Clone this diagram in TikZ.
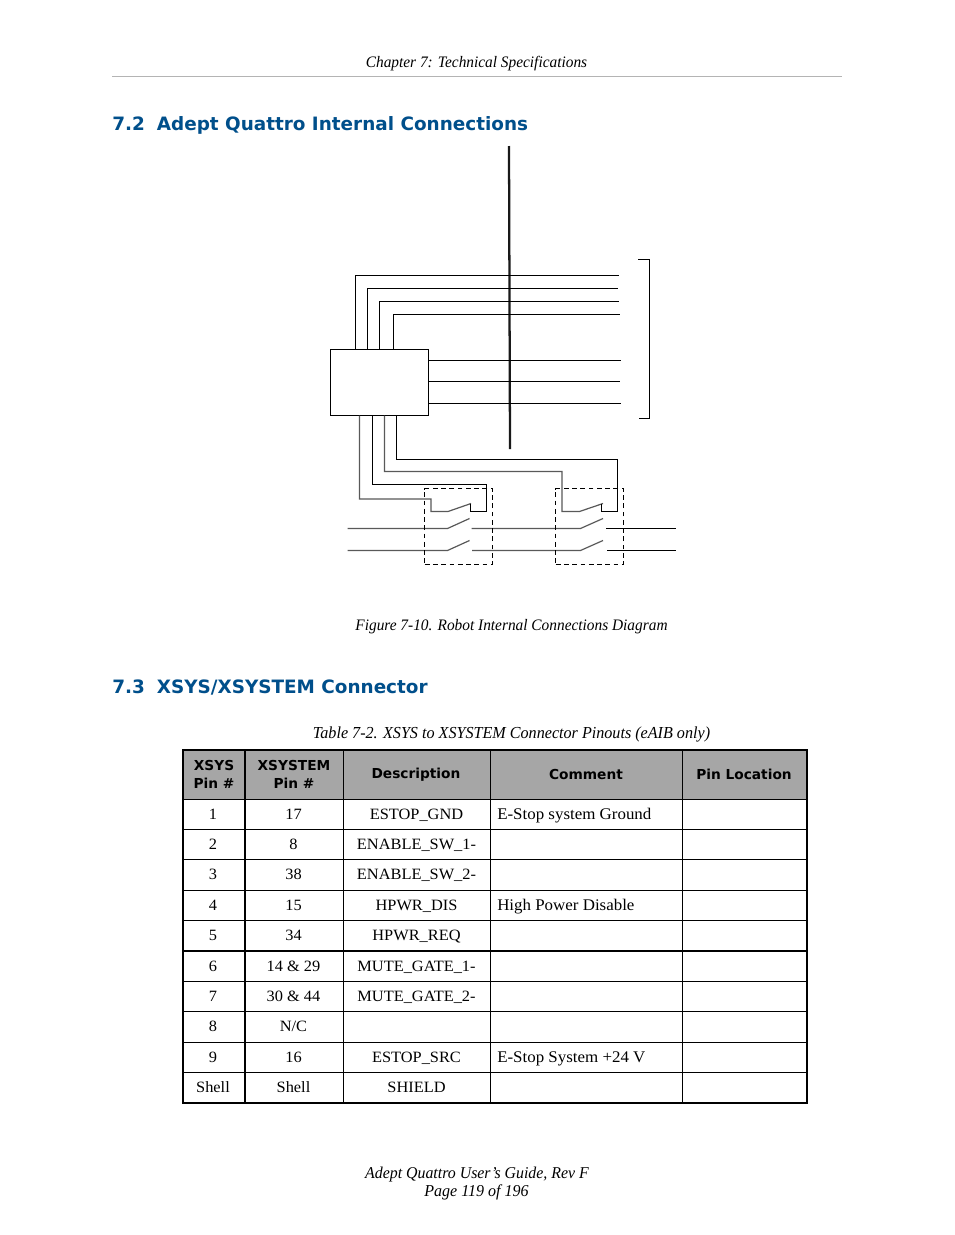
\documentclass[tikz,border=0pt]{standalone}
\usepackage{fontspec}
\setmainfont[FakeStretch=1.04]{Liberation Serif}
\newfontfamily\capfont[FakeStretch=0.96]{Liberation Serif}
\newfontfamily\headfont{DejaVu Sans}
\definecolor{headblue}{HTML}{004F8B}
\definecolor{headgray}{HTML}{A6A6A6}
\definecolor{rulegray}{HTML}{B4B4B4}
\tikzstyle{pagetext} = [inner sep=0pt,anchor=base,font=\capfont\itshape\fontsize{12pt}{15pt}\selectfont]
\tikzstyle{heading} = [inner sep=0pt,anchor=west,text=headblue,font=\headfont\bfseries\fontsize{13.8pt}{18pt}\selectfont]
\tikzstyle{cell} = [inner sep=0pt,anchor=base,font=\fontsize{11.8pt}{15pt}\selectfont]
\tikzstyle{note} = [inner sep=0pt,anchor=base west,font=\fontsize{12.2pt}{15pt}\selectfont]
\tikzstyle{hcell} = [inner sep=0pt,align=center,font=\headfont\bfseries\fontsize{10.3pt}{14pt}\selectfont]
\tikzstyle{unit} = [draw,line width=0.8pt,minimum width=73.5pt,minimum height=49.5pt,inner sep=0pt]
\tikzstyle{wire} = [line width=0.8pt]
\tikzstyle{graywire} = [line width=0.9pt,draw=black!65]
\tikzstyle{shaft} = [line width=1.7pt,draw=black!90]
\tikzstyle{relay} = [draw,dashed,line width=0.75pt,dash pattern=on 3.6pt off 2.6pt]

\begin{document}
\begin{tikzpicture}[x=0.75pt,y=-0.75pt]
	\useasboundingbox (0,0) rectangle (954,1235);
	\fill[white] (0,0) rectangle (954,1235);

	% page header and headings
	\node[pagetext] (chapter) at (476.5,67) {Chapter 7: Technical Specifications};
	\coordinate (ruleL) at (112,76.5);
	\coordinate (ruleR) at (842,76.5);
	\draw[rulegray,line width=0.6pt] (ruleL) -- (ruleR);
	\node[heading] (sec72) at (112,125.5) {7.2\hspace{9pt}Adept Quattro Internal Connections};
	\node[heading] (sec73) at (112,687.5) {7.3\hspace{9pt}XSYS/XSYSTEM Connector};
	\node[pagetext] (figcap) at (511.5,630) {Figure 7-10. Robot Internal Connections Diagram};
	\node[pagetext,font=\capfont\itshape\fontsize{12.6pt}{15pt}\selectfont] (tabcap) at (511.5,738) {Table 7-2. XSYS to XSYSTEM Connector Pinouts (eAIB only)};
	\node[pagetext,font=\capfont\itshape\fontsize{12.4pt}{15pt}\selectfont] (foot1) at (477,1178) {Adept Quattro User’s Guide, Rev F};
	\node[pagetext,font=\capfont\itshape\fontsize{12.5pt}{15pt}\selectfont] (foot2) at (476.5,1196) {Page 119 of 196};

	% diagram
	\node[unit] (ctrl) at (379.5,382.5) {};
	\coordinate (shaftT) at (509,146);
	\coordinate (shaftB) at (510,449);
	\draw[shaft] (shaftT) -- (shaftB);

	\foreach \x/\y/\e [count=\i] in {355.5/275.5/619,367.5/288.5/618,379.5/301.5/619,393.5/314.5/620}{
		\coordinate (t\i) at (\x,349.5);
		\coordinate (te\i) at (\e,\y);
		\draw[wire] (t\i) |- (te\i);
	}
	\foreach \y/\e [count=\i] in {360.5/621,381.5/620,403.5/621}{
		\coordinate (r\i) at (428.5,\y);
		\coordinate (re\i) at (\e,\y);
		\draw[wire] (r\i) -- (re\i);
	}
	\coordinate (brA) at (638,259.5);
	\coordinate (brB) at (649.5,259.5);
	\coordinate (brC) at (649.5,418.5);
	\coordinate (brD) at (639,418.5);
	\draw[wire] (brA) -- (brB) -- (brC) -- (brD);

	% wires to the two relays
	\coordinate (b1) at (359.5,415.5);
	\coordinate (b2) at (372.5,415.5);
	\coordinate (b3) at (384.5,415.5);
	\coordinate (b4) at (396.5,415.5);
	\draw[graywire] (b1) |- (431,499) |- (448,511.5) -- (471,503.5);
	\draw[wire] (470.5,503.5) |- (486.5,511.5) -- (486.5,484.5) -| (b2);
	\draw[graywire] (b3) |- (562,471.5) |- (579.5,511.5) -- (603,503.5);
	\draw[wire] (601.5,503.5) |- (617.5,511.5) -- (617.5,459.5) -| (b4);

	% switch contacts
	\draw[graywire] (347.5,528.5) -- (447.5,528.5) -- (469.5,518.5);
	\draw[graywire] (347.5,550.5) -- (447.5,550.5) -- (469.5,540.5);
	\draw[graywire] (471.5,528.5) -- (580.5,528.5) -- (603,518.5);
	\draw[graywire] (472,550.5) -- (580.5,550.5) -- (603,540.5);
	\draw[wire] (606,528.5) -- (676,528.5);
	\draw[wire] (607,550.5) -- (676,550.5);

	\node[relay,minimum width=50.7pt,minimum height=57pt,inner sep=0pt] (relay1) at (458.5,526.5) {};
	\node[relay,minimum width=50.7pt,minimum height=57pt,inner sep=0pt] (relay2) at (589.5,526.5) {};

	% table
	\fill[headgray] (183,750) rectangle (807,799);
	\foreach \y in {799,829.5,859.5,890,920.5,981.5,1011.5,1042,1072.5}{
		\draw[line width=0.75pt] (183,\y) -- (807,\y);
	}
	\draw[line width=1.1pt] (183,951) -- (807,951);
	\foreach \x in {343,490,682}{
		\draw[line width=0.75pt] (\x,750) -- (\x,1103);
	}
	\draw[line width=1.5pt] (245,750) -- (245,1103);
	\draw[line width=1.5pt] (183,750) rectangle (807,1103);

	\node[hcell] (h1) at (214,774.5) {XSYS\\Pin \#};
	\node[hcell] (h2) at (294,774.5) {XSYSTEM\\Pin \#};
	\node[hcell] (h3) at (416,774.5) {Description};
	\node[hcell] (h4) at (586,774.5) {Comment};
	\node[hcell] (h5) at (744,774.5) {Pin Location};

	\foreach \y/\a/\b/\c [count=\i] in {
		819/1/17/ESTOP\_GND,
		849/2/8/ENABLE\_SW\_1-,
		879/3/38/ENABLE\_SW\_2-,
		910/4/15/HPWR\_DIS,
		940/5/34/HPWR\_REQ,
		971/6/14 \& 29/MUTE\_GATE\_1-,
		1001/7/30 \& 44/MUTE\_GATE\_2-,
		1031/8/N\slash C/,
		1062/9/16/ESTOP\_SRC,
		1092/Shell/Shell/SHIELD}{
		\node[cell] (a\i) at (213,\y) {\a};
		\node[cell] (b\i) at (293.5,\y) {\b};
		\node[cell] (c\i) at (416.5,\y) {\c};
	}
	\node[note] (d1) at (497,819) {E-Stop system Ground};
	\node[note] (d4) at (497,910) {High Power Disable};
	\node[note] (d9) at (497,1062) {E-Stop System +24 V};
\end{tikzpicture}
\end{document}
